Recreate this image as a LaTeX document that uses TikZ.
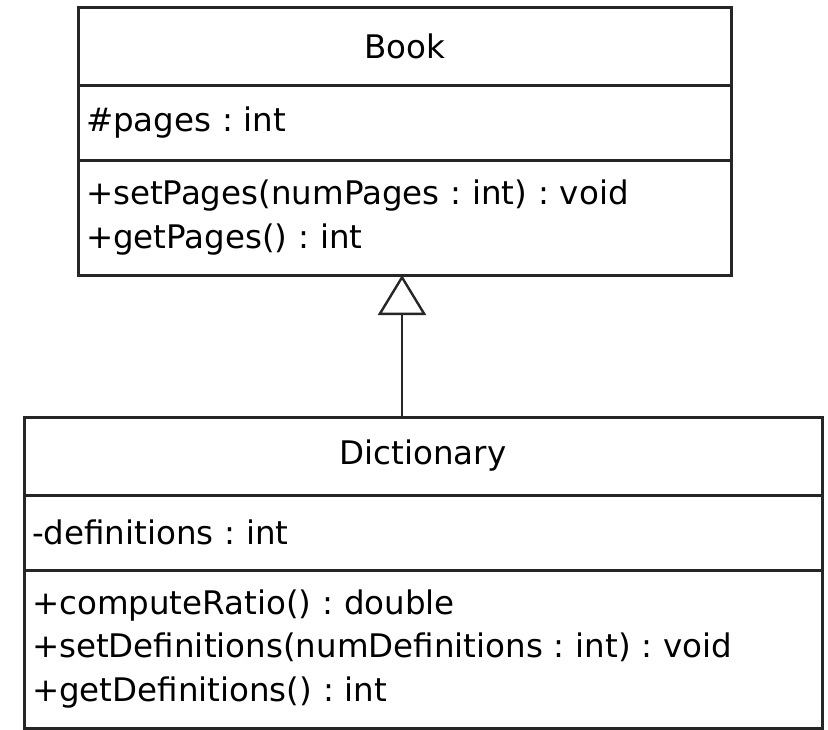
\documentclass[tikz,border=0pt]{standalone}
\usepackage{fontspec}
\setmainfont{DejaVu Sans}
\frenchspacing
\usetikzlibrary{arrows.meta,positioning}
\definecolor{umlline}{HTML}{262626}

\begin{document}
\begin{tikzpicture}[
  x=1pt, y=1pt,
  node distance=0pt,
  umlhead/.style={rectangle, draw=umlline, line width=3pt, outer sep=0pt, inner sep=0pt, minimum height=78pt, font=\fontsize{32.5}{43.5}\selectfont},
  umlpart/.style={rectangle, draw=umlline, line width=3pt, outer sep=0pt, inner xsep=8pt, inner ysep=0pt, align=left, font=\fontsize{32.5}{43.5}\selectfont},
  inherit/.style={-{Triangle[open, length=40pt, width=48pt]}, line width=2.4pt, draw=umlline}
]
\useasboundingbox (0,0) rectangle (828,-729);
% superclass
\node[umlhead, minimum width=653pt] (book) at (404.5,-46) {Book};
\node[umlpart, text width=637pt, minimum height=75pt, below=of book] (bookattr) {\#pages : int};
\node[umlpart, text width=637pt, minimum height=115pt, below=of bookattr] (bookops) {+setPages(numPages : int) : void\\+getPages() : int};
% subclass
\node[umlhead, minimum width=798pt] (dict) at (423,-456) {Dictionary};
\node[umlpart, text width=782pt, minimum height=75pt, below=of dict] (dictattr) {-definitions : int};
\node[umlpart, text width=782pt, minimum height=158pt, below=of dictattr] (dictops) {+computeRatio() : double\\+setDefinitions(numDefinitions : int) : void\\+getDefinitions() : int};
% generalization
\coordinate (genx) at (402,0);
\draw[inherit] (dict.north -| genx) -- (bookops.south -| genx);
\end{tikzpicture}
\end{document}
